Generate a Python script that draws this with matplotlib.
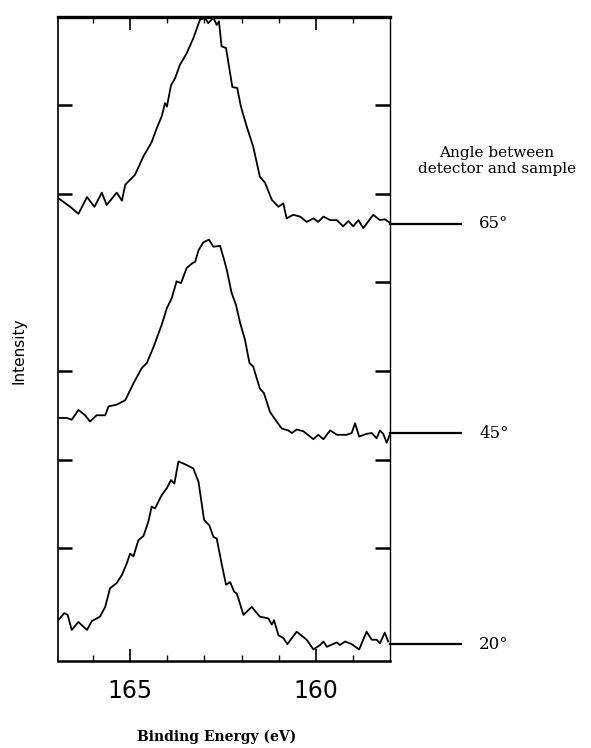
import matplotlib.pyplot as plt
import matplotlib.transforms as mtransforms

# spectra: binding energy (eV) and intensity (arb. units, stacked)
be_65 = [166.94, 166.61, 166.39, 166.16, 165.96, 165.76, 165.63, 165.36, 165.22, 165.13,
         164.87, 164.64, 164.42, 164.28, 164.15, 164.06, 164.01, 163.90, 163.79, 163.66,
         163.48, 163.30, 163.12, 162.98, 162.90, 162.76, 162.67, 162.61, 162.54, 162.42,
         162.25, 162.12, 162.02, 161.86, 161.69, 161.51, 161.37, 161.19, 161.01, 160.88,
         160.79, 160.61, 160.43, 160.25, 160.07, 159.94, 159.80, 159.62, 159.44, 159.27,
         159.13, 159.00, 158.86, 158.73, 158.46, 158.28, 158.15, 158.01]
int_65 = [3.95, 3.85, 3.77, 3.96, 3.85, 4.01, 3.87, 4.01, 3.92, 4.10,
          4.21, 4.42, 4.58, 4.74, 4.87, 5.02, 4.98, 5.22, 5.30, 5.45,
          5.58, 5.75, 5.96, 5.98, 5.92, 5.98, 5.90, 5.94, 5.66, 5.64,
          5.20, 5.19, 4.98, 4.75, 4.53, 4.19, 4.12, 3.93, 3.85, 3.89,
          3.72, 3.76, 3.74, 3.68, 3.72, 3.68, 3.74, 3.70, 3.70, 3.63,
          3.69, 3.63, 3.70, 3.61, 3.76, 3.70, 3.71, 3.67]

be_45 = [166.94, 166.70, 166.57, 166.39, 166.21, 166.08, 165.90, 165.67, 165.58, 165.36,
         165.13, 164.91, 164.69, 164.55, 164.37, 164.15, 164.01, 163.88, 163.75, 163.63,
         163.48, 163.34, 163.25, 163.16, 163.03, 162.88, 162.76, 162.58, 162.47, 162.40,
         162.27, 162.15, 162.04, 161.91, 161.79, 161.69, 161.51, 161.40, 161.24, 161.06,
         160.92, 160.75, 160.65, 160.52, 160.34, 160.07, 159.94, 159.80, 159.62, 159.44,
         159.18, 159.04, 158.95, 158.84, 158.64, 158.50, 158.37, 158.28, 158.19, 158.10,
         158.01]
int_45 = [1.47, 1.47, 1.45, 1.56, 1.50, 1.43, 1.50, 1.50, 1.60, 1.62,
          1.67, 1.86, 2.03, 2.09, 2.27, 2.52, 2.71, 2.82, 3.01, 2.99,
          3.16, 3.21, 3.23, 3.36, 3.45, 3.48, 3.40, 3.41, 3.25, 3.14,
          2.88, 2.74, 2.54, 2.35, 2.09, 2.05, 1.80, 1.75, 1.54, 1.43,
          1.35, 1.33, 1.30, 1.34, 1.32, 1.23, 1.28, 1.23, 1.33, 1.28,
          1.28, 1.30, 1.41, 1.26, 1.29, 1.30, 1.24, 1.33, 1.29, 1.19,
          1.29]

be_20 = [166.93, 166.77, 166.68, 166.57, 166.39, 166.16, 166.03, 165.81, 165.67, 165.54,
         165.36, 165.22, 165.09, 165.00, 164.91, 164.78, 164.64, 164.51, 164.42, 164.33,
         164.15, 164.01, 163.90, 163.81, 163.70, 163.48, 163.30, 163.16, 163.01, 162.87,
         162.76, 162.67, 162.54, 162.42, 162.31, 162.20, 162.13, 161.95, 161.73, 161.51,
         161.28, 161.19, 161.13, 161.01, 160.88, 160.77, 160.52, 160.25, 160.07, 159.89,
         159.80, 159.71, 159.44, 159.36, 159.22, 159.04, 158.84, 158.64, 158.50, 158.37,
         158.28, 158.15, 158.06]
int_20 = [-0.81, -0.73, -0.75, -0.92, -0.83, -0.92, -0.82, -0.77, -0.66, -0.45,
          -0.39, -0.30, -0.17, -0.06, -0.09, 0.09, 0.14, 0.30, 0.47, 0.45,
          0.60, 0.68, 0.77, 0.73, 0.98, 0.94, 0.90, 0.75, 0.32, 0.26,
          0.13, 0.11, -0.17, -0.41, -0.38, -0.49, -0.51, -0.75, -0.66, -0.77,
          -0.79, -0.86, -0.81, -0.98, -1.01, -1.08, -0.94, -1.03, -1.14, -1.09,
          -1.05, -1.11, -1.06, -1.09, -1.05, -1.08, -1.14, -0.94, -1.03, -1.03,
          -1.07, -0.95, -1.05]

angles = ['65°', '45°', '20°']
baselines = [3.66, 1.30, -1.08]

fig = plt.figure(figsize=(5.91, 7.48), dpi=100)
ax = fig.add_axes([0.0981, 0.1163, 0.5618, 0.861])

for be, inten in [(be_65, int_65), (be_45, int_45), (be_20, int_20)]:
    ax.plot(be, inten, color='black', lw=1.3)

ax.set_xlim(166.94, 158.01)
ax.set_ylim(-1.27, 5.99)

ax.set_xticks([165, 160])
ax.set_xticklabels(['165', '160'], fontsize=17, family='DejaVu Sans')
ax.set_xticks([166, 164, 163, 162, 161, 159], minor=True)
ax.tick_params(axis='x', which='major', direction='in', top=True, length=9, width=1.2, pad=13)
ax.tick_params(axis='x', which='minor', direction='in', top=True, length=4, width=1.0)

ax.set_yticks([0, 1, 2, 3, 4, 5])
ax.tick_params(axis='y', direction='in', left=False, right=True, labelleft=False,
               length=11, width=1.8)
sec = ax.secondary_yaxis('left')
sec.set_yticks([0, 1, 2, 4, 5])
sec.tick_params(direction='in', length=10, width=1.8, labelleft=False)
sec.spines['left'].set_linewidth(1.2)
ax.spines['left'].set_visible(False)

ax.spines['top'].set_linewidth(2.4)
ax.spines['bottom'].set_linewidth(1.8)
ax.spines['right'].set_linewidth(1.0)

# baseline markers to the right of the frame
trans = mtransforms.blended_transform_factory(ax.transAxes, ax.transData)
for lab, yb in zip(angles, baselines):
    ax.plot([1.0, 1.214], [yb, yb], color='black', lw=1.6, transform=trans, clip_on=False)
    ax.text(1.313, yb, lab, transform=trans, ha='center', va='center',
            fontsize=12, family='DejaVu Serif')

fig.text(0.841, 0.785, 'Angle between\ndetector and sample', ha='center', va='center',
         fontsize=11, family='DejaVu Serif', linespacing=1.15)
fig.text(0.032, 0.531, 'Intensity', rotation=90, ha='center', va='center', fontsize=11)
fig.text(0.366, 0.015, 'Binding Energy (eV)', ha='center', va='center',
         fontsize=10, family='DejaVu Serif', fontweight='bold')

fig.savefig('out.png', dpi=100)
